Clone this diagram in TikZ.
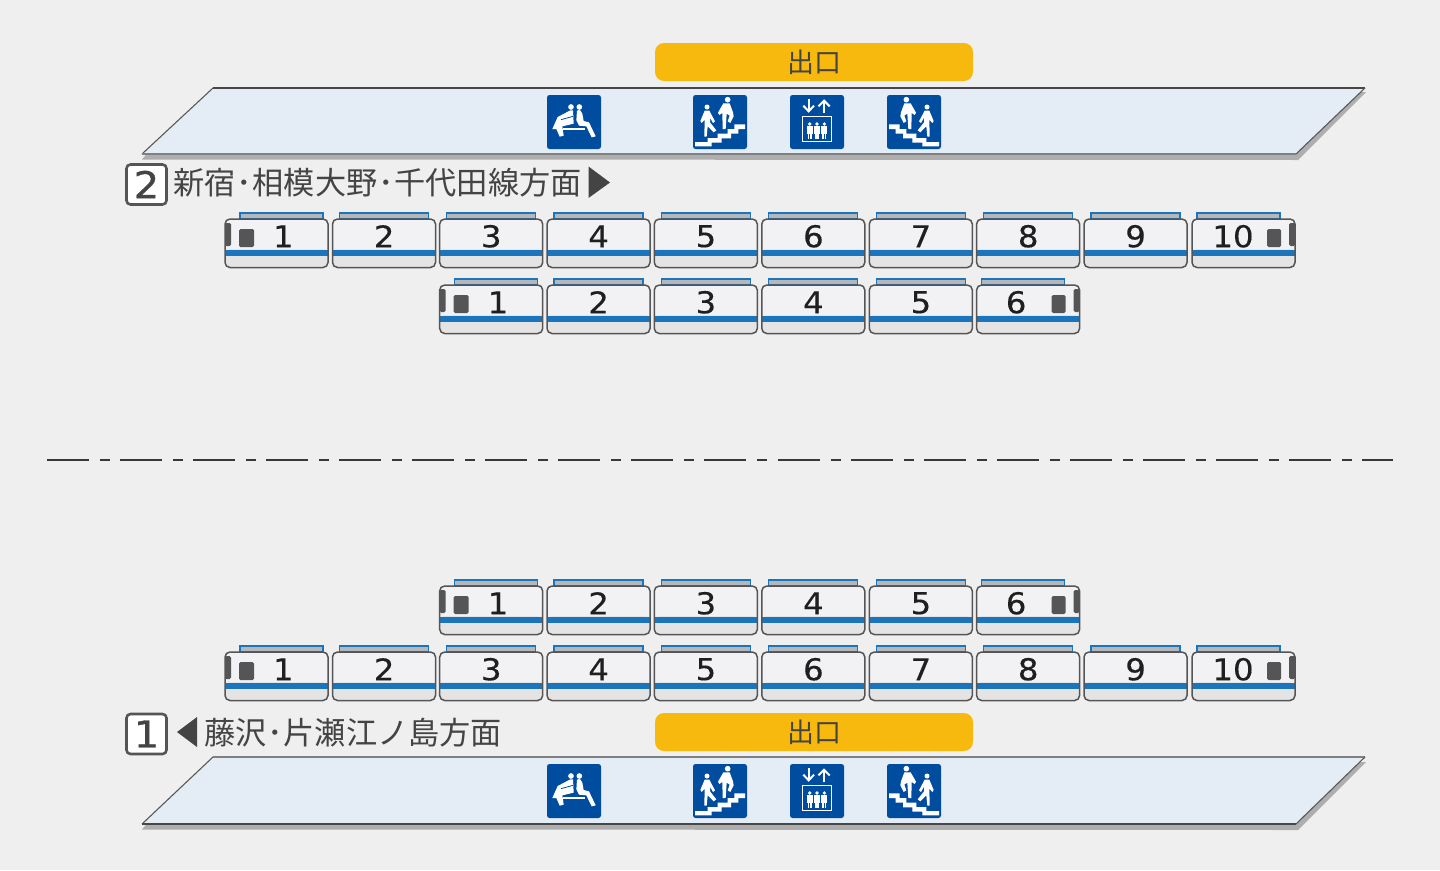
\documentclass[tikz,border=0pt]{standalone}
\usepackage{fontspec}
\setmainfont{DejaVu Sans}
\newfontfamily\cjk{Noto Sans CJK JP}
\newfontfamily\numf[FakeStretch=1.08,FakeBold=0.35]{DejaVu Sans}
\newfontfamily\bdgf[FakeStretch=1.08,FakeBold=0.9]{DejaVu Sans}
\definecolor{bg}{HTML}{EFEFEF}
\definecolor{plat}{HTML}{E4ECF6}
\definecolor{shad}{HTML}{AEAEAE}
\definecolor{edge}{HTML}{555555}
\definecolor{ink}{HTML}{444444}
\definecolor{pill}{HTML}{F8B90F}
\definecolor{carup}{HTML}{F2F2F4}
\definecolor{carlow}{HTML}{E4E4E4}
\definecolor{band}{HTML}{1A75BC}
\definecolor{roof}{HTML}{B4B8BC}
\definecolor{sign}{HTML}{004DA0}
\tikzset{
 exitpill/.style={fill=pill,rounded corners=9pt,minimum width=318pt,minimum height=38pt,inner sep=0pt,text=ink,font=\cjk\fontsize{27}{27}\selectfont},
 badge/.style={draw=edge,line width=2.6pt,fill=white,rounded corners=4pt,minimum width=40pt,minimum height=40pt,inner sep=0pt,text=ink,font=\bdgf\fontsize{37}{37}\selectfont},
 dirtext/.style={anchor=west,inner sep=0pt,text=ink,font=\cjk\fontsize{31.2}{31.2}\selectfont},
 carnum/.style={inner sep=0pt,text=black!88,font=\numf\fontsize{30}{30}\selectfont},
}
\newcommand{\carbody}[5]{%
 \begin{scope}[shift={(#1,#2)}]
  \ifnum#5=1
    \path[fill=roof,draw=band,line width=1.2pt] (15,-6) rectangle (98,0);
  \else\ifnum#5=2
    \path[fill=roof,draw=band,line width=1.2pt] (5,-6) rectangle (88,0);
  \else
    \path[fill=roof,draw=band,line width=1.2pt] (7,-6) rectangle (96,0);
  \fi\fi
  \path[fill=carup,rounded corners=5pt] (0,30) -- (0,0) -- (103,0) -- (103,30) -- cycle;
  \path[fill=carlow,rounded corners=5pt] (0,30) -- (0,48.5) -- (103,48.5) -- (103,30) -- cycle;
  \fill[band] (0,30.5) rectangle (103,36.5);
  \ifnum#5=1
    \fill[edge,rounded corners=1.5pt] (0,4) rectangle (6,27);
    \fill[edge,rounded corners=1.5pt] (14,10) rectangle (29,28);
    \node[carnum] (car#4n#2) at (58.3,17.3) {#3};
  \else\ifnum#5=2
    \fill[edge,rounded corners=1.5pt] (97,4) rectangle (103,27);
    \fill[edge,rounded corners=1.5pt] (75,10) rectangle (89,28);
    \node[carnum] (car#4n#2) at (\ifnum#4=10 41\else 39.5\fi,17.3) {#3};
  \else
    \node[carnum] (car#4n#2) at (51.6,17.3) {#3};
  \fi\fi
  \draw[edge,line width=1.5pt,rounded corners=5pt] (0,0) rectangle (103,48.5);
 \end{scope}}
\newcommand{\rowten}[1]{%
 \carbody{225}{#1}{1}{1}{1}\carbody{332.5}{#1}{2}{2}{0}\carbody{439.7}{#1}{3}{3}{0}%
 \carbody{547}{#1}{4}{4}{0}\carbody{654.3}{#1}{5}{5}{0}\carbody{761.8}{#1}{6}{6}{0}%
 \carbody{869.3}{#1}{7}{7}{0}\carbody{976.6}{#1}{8}{8}{0}\carbody{1084}{#1}{9}{9}{0}%
 \carbody{1192}{#1}{10}{10}{2}}
\newcommand{\rowsix}[1]{%
 \carbody{439.7}{#1}{1}{1}{1}\carbody{547}{#1}{2}{2}{0}\carbody{654.3}{#1}{3}{3}{0}%
 \carbody{761.8}{#1}{4}{4}{0}\carbody{869.3}{#1}{5}{5}{0}\carbody{976.6}{#1}{6}{6}{2}}
% icons are drawn in a 174 x 174 local grid (one third of a pixel per unit)
\newcommand{\signbg}{\fill[sign,rounded corners=2.5pt] (6,6) rectangle (168,168);}
\newcommand{\benchicon}[1]{\begin{scope}[shift={(#1)},shift={(-2,-2)},scale=1/3]\signbg
 \fill[white] (78,42) circle (8.5); \fill[white] (103,42) circle (8.5);
 \fill[white] (84,52) -- (86,92) -- (52,100) -- (56,128) -- (44,131) -- (34,108) -- (22,108) -- (38,72) -- (76,52) -- cycle;
 \draw[sign,line width=.8pt] (48,80) -- (84,70);
 \fill[white] (96,53) .. controls (104,48) and (110,54) .. (112,62) -- (116,84) -- (132,88) -- (152,130) -- (140,133) -- (124,100) -- (102,98) -- (94,82) -- cycle;
 \fill[white] (55,105) rectangle (120,110);
 \end{scope}}
\newcommand{\walkfig}{%
 \fill[white] (48,42) circle (7.5); \fill[white] (110,20) circle (8.5);
 \fill[white] (41,53) -- (55,53) -- (72,85) -- (66,90) -- (57,74) -- (57,88) -- (76,112) -- (68,118) -- (50,100) -- (47,131) -- (40,131) -- (41,80) -- (32,90) -- (28,84) -- cycle;
 \fill[white] (97,31) -- (116,31) -- (126,58) -- (128,70) -- (118,90) -- (110,85) -- (116,68) -- (107,62) -- (104,108) -- (95,108) -- (94,60) -- (85,66) -- (81,59) -- cycle;
 \fill[white] (12,147) -- (50,147) -- (50,135) -- (80,135) -- (80,122) -- (110,122) -- (110,108) -- (130,108) -- (130,94) -- (162,94) -- (162,108) -- (142,108) -- (142,122) -- (120,122) -- (120,136) -- (92,136) -- (92,149) -- (62,149) -- (62,160) -- (12,160) -- cycle;}
\newcommand{\upicon}[1]{\begin{scope}[shift={(#1)},shift={(-2,-2)},scale=1/3]\signbg\walkfig\end{scope}}
\newcommand{\downicon}[1]{\begin{scope}[shift={(#1)},shift={(56,-2)},xscale=-1/3,yscale=1/3]\signbg\walkfig\end{scope}}
\newcommand{\lifticon}[1]{\begin{scope}[shift={(#1)},shift={(-2,-2)},scale=1/3]\signbg
 \draw[white,line width=2pt] (62,18) -- (62,53); \draw[white,line width=2pt] (46,38) -- (62,55) -- (78,38);
 \draw[white,line width=2pt] (108,24) -- (108,60); \draw[white,line width=2pt] (91,40) -- (108,23) -- (125,40);
 \draw[white,line width=1.5pt] (44,70) rectangle (131,146);
 \foreach \k in {65,87,109}{
  \fill[white] (\k,93) circle (5.5);
  \fill[white] (\k-9,100) rectangle (\k+9,122);
  \fill[white] (\k-6,120) rectangle (\k-1,139);
  \fill[white] (\k+1,120) rectangle (\k+6,139);}
 \end{scope}}
\begin{document}
\begin{tikzpicture}[x=1pt,y=-1pt]
\useasboundingbox (0,0) rectangle (1440,870);
\fill[bg] (0,0) rectangle (1440,870);
% --- upper platform
\fill[shad] (142,159.5) -- (150,150) -- (1358,92) -- (1366,92) -- (1298,160) -- cycle;
\fill[plat] (213,88) -- (1365,88) -- (1296,154) -- (142,154) -- cycle;
\draw[black!65,line width=1.1pt] (142,154) -- (213,88);
\draw[black!72,line width=1.2pt] (213,88) -- (1365,88);
\draw[black!65,line width=1.1pt] (1365,88) -- (1296,154);
\draw[black!50,line width=2pt] (142,154.3) -- (1296,154.3);
\node[exitpill] (exitA) at (814,62) {出口};
\benchicon{547,95}\upicon{693,95}\lifticon{790,95}\downicon{887,95}
\node[badge] (trackB) at (146.5,184.5) {2};
\node[dirtext] (dirB) at (173,183) {新宿\kern.75pt･\kern.75pt相模大野\kern.75pt･\kern.75pt千代田線方面};
\fill[ink] (588.5,166.5) -- (610,182.5) -- (588.5,198) -- cycle;
\rowten{219}
\rowsix{285}
% --- divider
\draw[black!78,line width=1.8pt,dash pattern=on 42pt off 11pt on 10pt off 10.05pt] (47,460) -- (1393,460);
% --- lower
\rowsix{586}
\rowten{652}
\fill[shad] (142,829.5) -- (150,820) -- (1358,762) -- (1366,762) -- (1298,830) -- cycle;
\fill[plat] (213,757) -- (1365,757) -- (1296,824) -- (142,824) -- cycle;
\draw[black!50,line width=1.6pt] (213,757) -- (1365,757);
\draw[black!65,line width=1.1pt] (142,824) -- (213,757);
\draw[black!65,line width=1.1pt] (1365,757) -- (1296,824);
\draw[black!72,line width=1.2pt] (142,824) -- (1296,824);
\node[exitpill] (exitC) at (814,732) {出口};
\benchicon{547,764}\upicon{693,764}\lifticon{790,764}\downicon{887,764}
\node[badge] (trackA) at (146.5,734) {1};
\fill[ink] (197,717) -- (177,732) -- (197,747) -- cycle;
\node[dirtext] (dirA) at (204,733) {藤沢\kern.75pt･\kern.75pt片瀬江ノ島方面};
\end{tikzpicture}
\end{document}
